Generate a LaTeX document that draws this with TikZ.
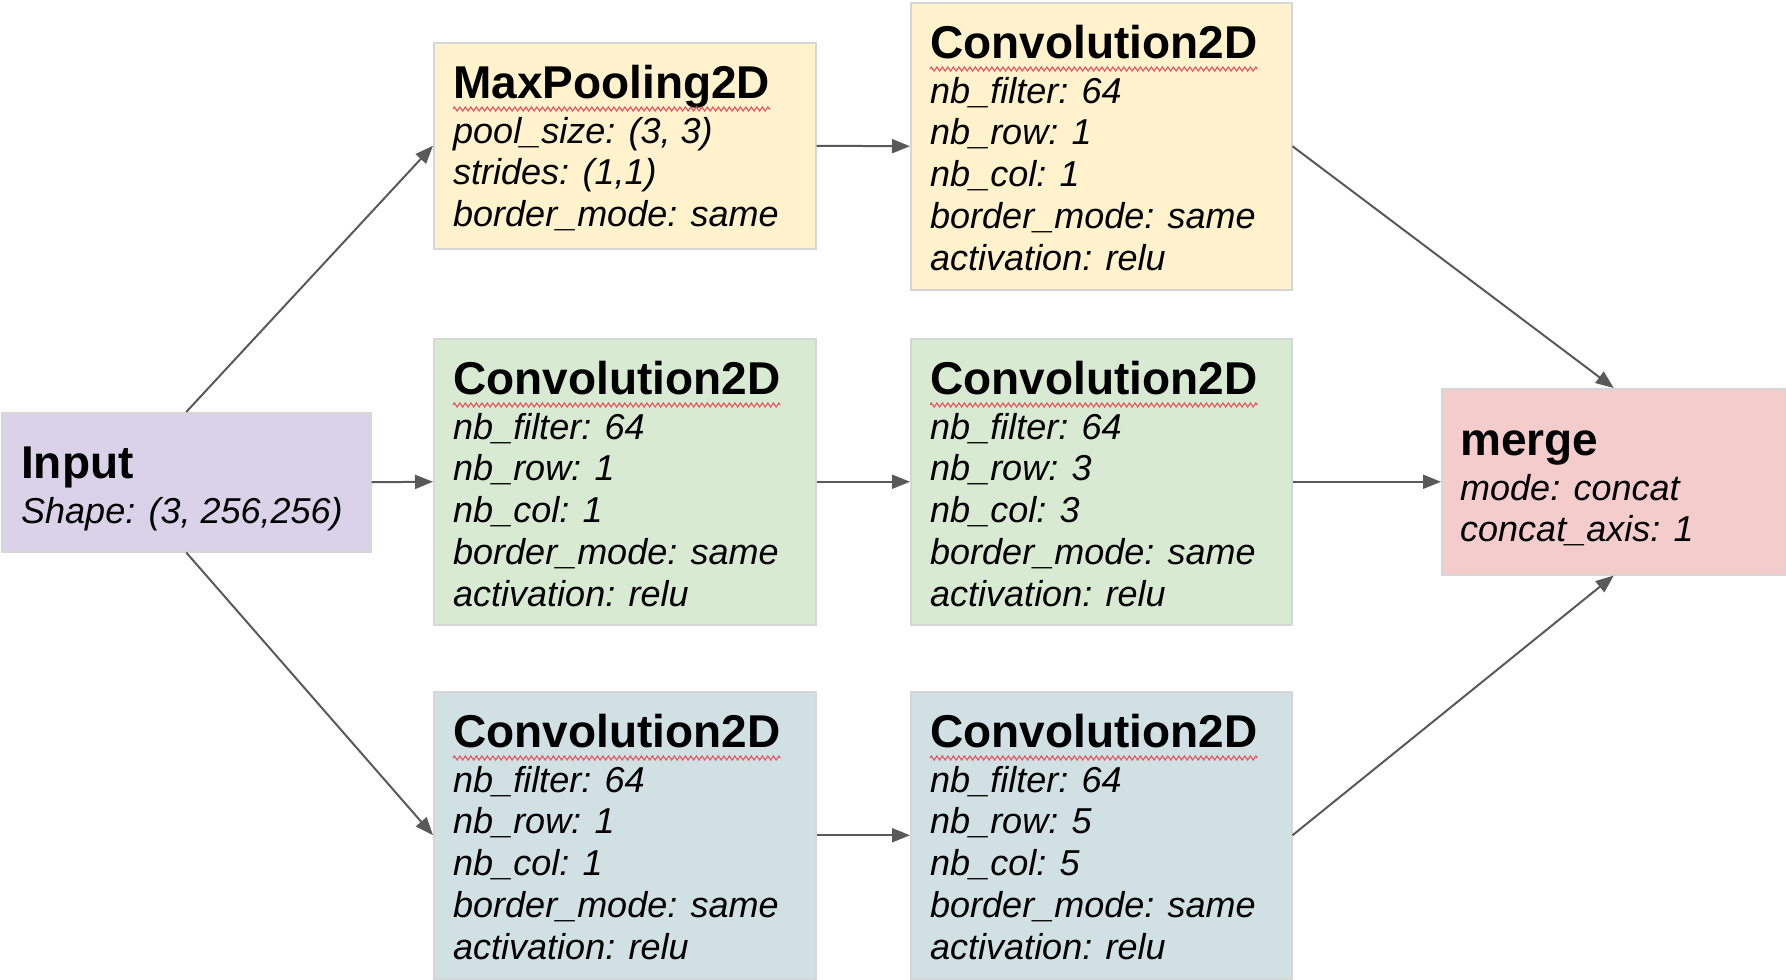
\documentclass[tikz,border=0pt]{standalone}
\usepackage{fontspec}
\setmainfont{Liberation Sans}
\usetikzlibrary{arrows.meta,calc,decorations.pathmorphing}
\definecolor{cpurple}{HTML}{D9D2E9}
\definecolor{cyellow}{HTML}{FFF2CC}
\definecolor{cgreen}{HTML}{D9EAD3}
\definecolor{ccyan}{HTML}{D0E0E3}
\definecolor{cred}{HTML}{F4CCCC}
\definecolor{boxline}{HTML}{D6D6D6}
\definecolor{arrowgray}{HTML}{595959}
\definecolor{wavered}{HTML}{E8505B}
\begin{document}
\begin{tikzpicture}[x=1pt,y=-1pt,
  layerbox/.style={rectangle, draw=boxline, line width=1.5pt, inner sep=0pt, anchor=north west},
  titletext/.style={inner sep=0pt, anchor=base west, font=\fontsize{46}{50}\selectfont\bfseries},
  bodytext/.style={inner sep=0pt, anchor=base west, font=\fontsize{36}{41.8}\selectfont\itshape},
  wavy/.style={draw=wavered, line width=1.1pt, decorate, decoration={zigzag, segment length=5.5pt, amplitude=2pt}},
  arr/.style={draw=arrowgray, line width=2pt, -{Triangle[length=18pt,width=14pt]}}
]
\useasboundingbox (0,0) rectangle (1786,980);

% boxes
\node[layerbox, fill=cpurple, minimum width=369pt, minimum height=139pt] (inp) at (1,412) {};
\node[layerbox, fill=cyellow, minimum width=382pt, minimum height=206pt] (mp) at (433,42) {};
\node[layerbox, fill=cyellow, minimum width=381pt, minimum height=287pt] (c1) at (910,2) {};
\node[layerbox, fill=cgreen, minimum width=382pt, minimum height=286pt] (c2) at (433,338) {};
\node[layerbox, fill=cgreen, minimum width=381pt, minimum height=286pt] (c3) at (910,338) {};
\node[layerbox, fill=ccyan, minimum width=382pt, minimum height=287pt] (c4) at (433,691) {};
\node[layerbox, fill=ccyan, minimum width=381pt, minimum height=287pt] (c5) at (910,691) {};
\node[layerbox, fill=cred, minimum width=344pt, minimum height=186pt] (mg) at (1441,388) {};

% Input
\node[titletext] (inpT) at ($(inp.north west)+(20,66)$) {Input};
\node[bodytext] (inpB) at ($(inp.north west)+(20,111)$) {Shape: (3, 256,256)};

% MaxPooling
\node[titletext] (mpT) at ($(mp.north west)+(20,56)$) {MaxPooling2D};
\draw[wavy] ($(mpT.base west)+(0,11)$) -- ($(mpT.base east)+(0,11)$);
\node[bodytext] (mpB) at ($(mp.north west)+(20,101)$) {\begin{tabular}[t]{@{}l@{}}pool\_size: (3, 3)\\ strides: (1,1)\\ border\_mode: same\end{tabular}};

% Conv top right
\node[titletext] (c1T) at ($(c1.north west)+(20,56)$) {Convolution2D};
\draw[wavy] ($(c1T.base west)+(0,11)$) -- ($(c1T.base east)+(0,11)$);
\node[bodytext] (c1B) at ($(c1.north west)+(20,101)$) {\begin{tabular}[t]{@{}l@{}}nb\_filter: 64\\ nb\_row: 1\\ nb\_col: 1\\ border\_mode: same\\ activation: relu\end{tabular}};

% Conv mid left
\node[titletext] (c2T) at ($(c2.north west)+(20,56)$) {Convolution2D};
\draw[wavy] ($(c2T.base west)+(0,11)$) -- ($(c2T.base east)+(0,11)$);
\node[bodytext] (c2B) at ($(c2.north west)+(20,101)$) {\begin{tabular}[t]{@{}l@{}}nb\_filter: 64\\ nb\_row: 1\\ nb\_col: 1\\ border\_mode: same\\ activation: relu\end{tabular}};

% Conv mid right
\node[titletext] (c3T) at ($(c3.north west)+(20,56)$) {Convolution2D};
\draw[wavy] ($(c3T.base west)+(0,11)$) -- ($(c3T.base east)+(0,11)$);
\node[bodytext] (c3B) at ($(c3.north west)+(20,101)$) {\begin{tabular}[t]{@{}l@{}}nb\_filter: 64\\ nb\_row: 3\\ nb\_col: 3\\ border\_mode: same\\ activation: relu\end{tabular}};

% Conv bottom left
\node[titletext] (c4T) at ($(c4.north west)+(20,56)$) {Convolution2D};
\draw[wavy] ($(c4T.base west)+(0,11)$) -- ($(c4T.base east)+(0,11)$);
\node[bodytext] (c4B) at ($(c4.north west)+(20,101)$) {\begin{tabular}[t]{@{}l@{}}nb\_filter: 64\\ nb\_row: 1\\ nb\_col: 1\\ border\_mode: same\\ activation: relu\end{tabular}};

% Conv bottom right
\node[titletext] (c5T) at ($(c5.north west)+(20,56)$) {Convolution2D};
\draw[wavy] ($(c5T.base west)+(0,11)$) -- ($(c5T.base east)+(0,11)$);
\node[bodytext] (c5B) at ($(c5.north west)+(20,101)$) {\begin{tabular}[t]{@{}l@{}}nb\_filter: 64\\ nb\_row: 5\\ nb\_col: 5\\ border\_mode: same\\ activation: relu\end{tabular}};

% merge
\node[titletext] (mgT) at ($(mg.north west)+(19,67)$) {merge};
\node[bodytext] (mgB) at ($(mg.north west)+(19,112)$) {\begin{tabular}[t]{@{}l@{}}mode: concat\\ concat\_axis: 1\end{tabular}};

% connectors
\draw[arr] (inp.north) -- (mp.west);
\draw[arr] (inp.east) -- (c2.west);
\draw[arr] (inp.south) -- (c4.west);
\draw[arr] (mp.east) -- (c1.west);
\draw[arr] (c2.east) -- (c3.west);
\draw[arr] (c4.east) -- (c5.west);
\draw[arr] (c1.east) -- (mg.north);
\draw[arr] (c3.east) -- (mg.west);
\draw[arr] (c5.east) -- (mg.south);
\end{tikzpicture}
\end{document}
